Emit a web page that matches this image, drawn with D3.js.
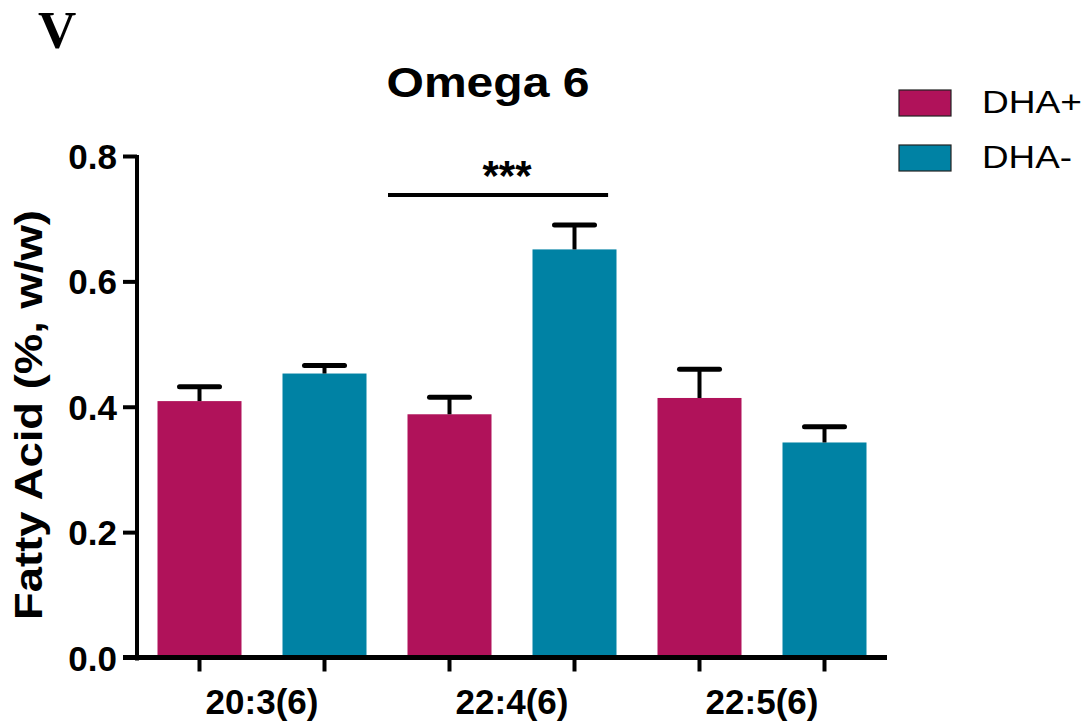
<!DOCTYPE html>
<html>
<head>
<meta charset="utf-8">
<script src="https://cdn.jsdelivr.net/npm/d3@7"></script>
<style>
  html, body { margin: 0; padding: 0; background: #fff; }
  svg { display: block; }
</style>
</head>
<body>
<svg id="chart" width="1091" height="725"></svg>
<script>
// Fatty acid composition, omega-6 species
const categories = ["20:3(6)", "22:4(6)", "22:5(6)"];
const groups = ["DHA+", "DHA-"];
const meanDHAplus  = [0.409, 0.388, 0.414];
const meanDHAminus = [0.453, 0.651, 0.343];
const semDHAplus   = [0.023, 0.027, 0.046];
const semDHAminus  = [0.013, 0.039, 0.025];
const yTicks = [0.0, 0.2, 0.4, 0.6, 0.8];
const colors = ["#B0125A", "#0082A4"];

const rows = [];
categories.forEach((c, i) => {
  rows.push({ cat: c, grp: groups[0], mean: meanDHAplus[i],  sem: semDHAplus[i] });
  rows.push({ cat: c, grp: groups[1], mean: meanDHAminus[i], sem: semDHAminus[i] });
});

const svg = d3.select("#chart");
const font = "Arial, 'Liberation Sans', Helvetica, sans-serif";

const x0 = d3.scaleBand().domain(categories).range([137, 887]).padding(0);
const x1 = d3.scaleBand().domain(groups).range([0, x0.bandwidth()])
  .paddingInner(0.328).paddingOuter(0.164);
const y = d3.scaleLinear().domain([0, 0.8]).range([657.5, 156]);
const color = d3.scaleOrdinal().domain(groups).range(colors);
const cx = d => x0(d.cat) + x1(d.grp) + x1.bandwidth() / 2;

// bars
svg.append("g").selectAll("rect").data(rows).join("rect")
  .attr("x", d => x0(d.cat) + x1(d.grp))
  .attr("y", d => y(d.mean))
  .attr("width", x1.bandwidth())
  .attr("height", d => y(0) - y(d.mean))
  .attr("fill", d => color(d.grp));

// error bars (upper SEM only)
const eb = svg.append("g").attr("stroke", "#000");
eb.selectAll("line.stem").data(rows).join("line")
  .attr("class", "stem")
  .attr("x1", cx).attr("x2", cx)
  .attr("y1", d => y(d.mean))
  .attr("y2", d => y(d.mean + d.sem))
  .attr("stroke-width", 4);
eb.selectAll("line.cap").data(rows).join("line")
  .attr("class", "cap")
  .attr("x1", d => cx(d) - 20)
  .attr("x2", d => cx(d) + 20)
  .attr("y1", d => y(d.mean + d.sem))
  .attr("y2", d => y(d.mean + d.sem))
  .attr("stroke-width", 5)
  .attr("stroke-linecap", "round");

// y axis
const yAxis = d3.axisLeft(y).tickValues(yTicks).tickFormat(d3.format(".1f"))
  .tickSize(14).tickPadding(6);
const gy = svg.append("g").attr("transform", "translate(137,0)").call(yAxis);
gy.select(".domain").attr("stroke", "#000").attr("stroke-width", 4)
  .attr("d", `M0,${y(0.8) - 1}V${y(0) + 3}`);
gy.selectAll(".tick line").attr("stroke", "#000").attr("stroke-width", 4);
gy.selectAll(".tick text")
  .attr("font-family", font).attr("font-weight", "bold").attr("font-size", 35)
  .attr("fill", "#000").attr("dy", "0.36em");

// x axis
const xAxis = d3.axisBottom(x0).tickSize(0).tickPadding(32);
const gx = svg.append("g").attr("transform", `translate(0,${y(0)})`).call(xAxis);
gx.select(".domain").attr("stroke", "#000").attr("stroke-width", 5)
  .attr("d", "M123,0H887");
gx.selectAll(".tick text")
  .attr("font-family", font).attr("font-weight", "bold").attr("font-size", 35)
  .attr("fill", "#000").attr("dy", "0.71em");

// ticks under each bar
svg.append("g").selectAll("line").data(rows).join("line")
  .attr("x1", cx).attr("x2", cx)
  .attr("y1", y(0))
  .attr("y2", y(0) + 14)
  .attr("stroke", "#000").attr("stroke-width", 4);

// significance annotation
const sigX0 = x0("22:4(6)") + 1;
const sigX1 = x0("22:4(6)") + x1("DHA-") + x1.bandwidth() * 0.9;
svg.append("line")
  .attr("x1", sigX0).attr("x2", sigX1)
  .attr("y1", 195).attr("y2", 195)
  .attr("stroke", "#000").attr("stroke-width", 4);
svg.append("text")
  .attr("x", 507).attr("y", 190)
  .attr("text-anchor", "middle")
  .attr("font-family", font).attr("font-weight", "bold").attr("font-size", 42)
  .text("***");

// title
svg.append("text")
  .attr("x", 488).attr("y", 97)
  .attr("text-anchor", "middle")
  .attr("font-family", font).attr("font-weight", "bold").attr("font-size", 42)
  .attr("textLength", 203).attr("lengthAdjust", "spacingAndGlyphs")
  .text("Omega 6");

// panel letter
svg.append("text")
  .attr("x", 38).attr("y", 48)
  .attr("font-family", "'Liberation Serif', 'Times New Roman', serif")
  .attr("font-weight", "bold").attr("font-size", 53)
  .text("V");

// y axis title
svg.append("text")
  .attr("transform", "translate(42,415) rotate(-90)")
  .attr("text-anchor", "middle")
  .attr("font-family", font).attr("font-weight", "bold").attr("font-size", 39)
  .attr("textLength", 410).attr("lengthAdjust", "spacingAndGlyphs")
  .text("Fatty Acid (%, w/w)");

// legend
const legendWidths = [100, 90];
const lg = svg.append("g").selectAll("g").data(groups).join("g")
  .attr("transform", (d, i) => `translate(899,${90 + i * 55})`);
lg.append("rect")
  .attr("width", 52).attr("height", 26)
  .attr("fill", d => color(d))
  .attr("stroke", "#222").attr("stroke-width", 1.2);
lg.append("text")
  .attr("x", 83).attr("y", 23)
  .attr("font-family", font).attr("font-size", 32)
  .attr("fill", "#000")
  .attr("textLength", (d, i) => legendWidths[i])
  .attr("lengthAdjust", "spacingAndGlyphs")
  .text(d => d);
</script>
</body>
</html>
